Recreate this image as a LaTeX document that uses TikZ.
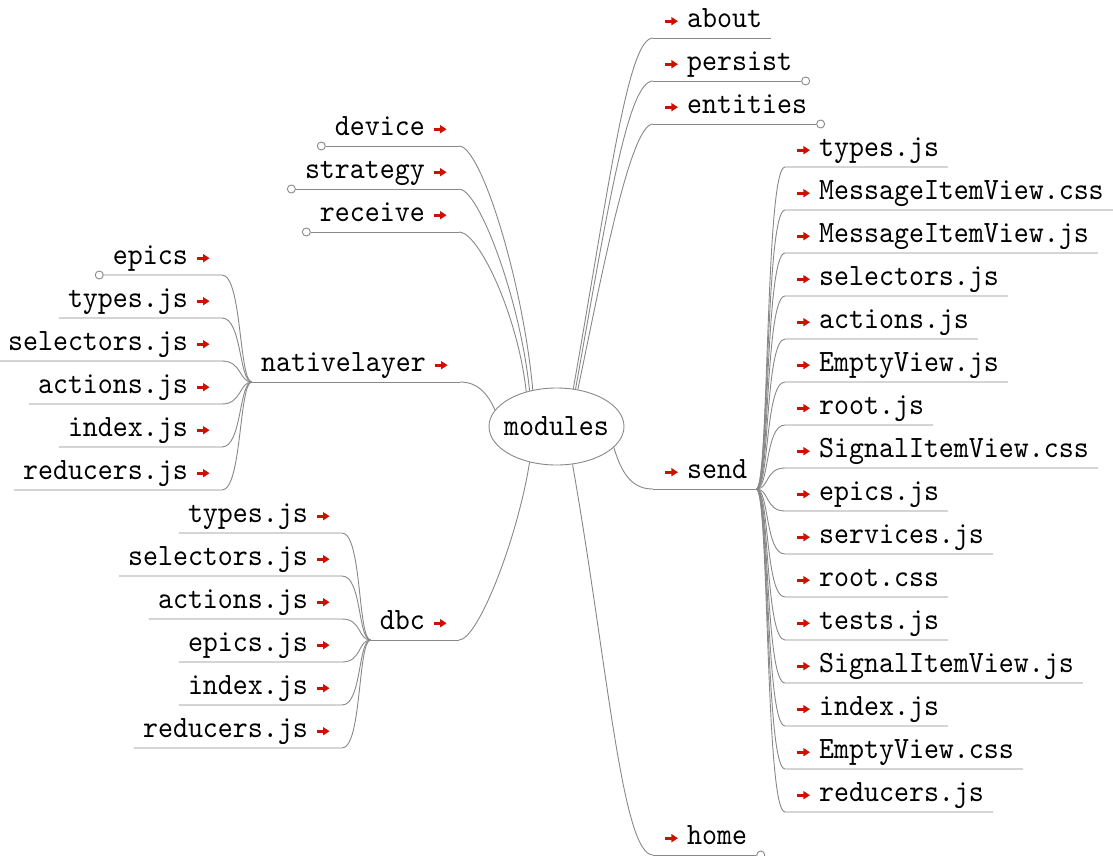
\documentclass[tikz,border=0pt]{standalone}
\usepackage{fontspec}
\usetikzlibrary{shapes.geometric}
\newfontfamily\mono{lmmono10-regular.otf}[FakeStretch=0.92]
\definecolor{linegray}{RGB}{136,136,136}
\definecolor{arrred}{RGB}{204,17,0}
\newcommand\arr{\makebox[13pt][c]{\tikz[x=1pt,y=1pt,baseline=0pt]{\fill[arrred] (0,5) rectangle (7,8.2); \fill[arrred] (6,2.4) -- (12.5,6.6) -- (6,10.8) -- cycle;}}}
\newcommand\RT[1]{\hspace*{12pt}\arr\hspace*{9pt}#1\hspace*{9pt}}
\newcommand\LT[1]{\hspace*{9pt}#1\hspace*{9pt}\arr\hspace*{12pt}}
\begin{document}
\begin{tikzpicture}[x=1pt,y=-1pt,
  conn/.style={draw=linegray, line width=0.9pt},
  base/.style={inner sep=0pt, text height=24pt, text depth=10pt, font=\mono\fontsize{31}{34}\selectfont},
  ritem/.style={base, anchor=south west},
  litem/.style={base, anchor=south east},
  knob/.style={circle, draw=linegray, fill=white, line width=0.9pt, minimum size=8pt, inner sep=0pt},
]
\useasboundingbox (0,0) rectangle (1113,856);

\node[ellipse, draw=linegray, line width=0.9pt, minimum width=135pt, minimum height=77pt, inner xsep=-6pt, inner ysep=0pt, font=\mono\fontsize{31}{34}\selectfont] (root) at (556.5,426.5) {modules};

% right top level
\node[ritem] (about) at (653,38) {\RT{about}};
\node[ritem] (persist) at (653,81) {\RT{persist}};
\node[ritem] (entities) at (653,124) {\RT{entities}};
\node[ritem] (send) at (653,489) {\RT{send}};
\node[ritem] (home) at (653,855) {\RT{home}};
% left top level
\node[litem] (device) at (459,146) {\LT{device}};
\node[litem] (strategy) at (459,189) {\LT{strategy}};
\node[litem] (receive) at (459,232) {\LT{receive}};
\node[litem] (native) at (460,382) {\LT{nativelayer}};
\node[litem] (dbc) at (459,640) {\LT{dbc}};

\foreach \n in {about,persist,entities,send,home,device,strategy,receive,native,dbc}
  \draw[conn] (\n.south west) -- (\n.south east);

% connectors from root
\draw[conn] (root.66) .. controls +(37,-210) and +(-25,0) .. (about.south west);
\draw[conn] (root.63) .. controls +(33,-185) and +(-25,0) .. (persist.south west);
\draw[conn] (root.60) .. controls +(23,-110) and +(-23,0) .. (entities.south west);
\draw[conn] (root.-20) .. controls +(9,31) and +(-18,0) .. (send.south west);
\draw[conn] (root.-67.5) .. controls +(35,200) and +(-31,0) .. (home.south west);
\draw[conn] (root.123) .. controls +(-10,-109) and +(22,0) .. (device.south east);
\draw[conn] (root.127) .. controls +(-9,-90) and +(20,0) .. (strategy.south east);
\draw[conn] (root.131) .. controls +(-8,-75) and +(20,0) .. (receive.south east);
\draw[conn] (root.165) .. controls +(-7,-16) and +(18,0) .. (native.south east);
\draw[conn] (root.233) .. controls +(-12,76) and +(19,0) .. (dbc.south east);

% send children
\foreach \t [count=\i] in {types.js,MessageItemView.css,MessageItemView.js,selectors.js,actions.js,EmptyView.js,root.js,SignalItemView.css,epics.js,services.js,root.css,tests.js,SignalItemView.js,index.js,EmptyView.css,reducers.js}
  \node[ritem] (s\i) at (785,{167+43*(\i-1)}) {\RT{\t}};
\foreach \i in {1,...,16}
  \draw[conn] (send.south east) .. controls +(13,0) and +(-20,0) .. (s\i.south west) -- (s\i.south east);

% nativelayer children
\foreach \t [count=\i] in {epics,types.js,selectors.js,actions.js,index.js,reducers.js}
  \node[litem] (n\i) at (222,{275+43*(\i-1)}) {\LT{\t}};
\foreach \i in {1,...,6}
  \draw[conn] (native.south west) .. controls +(-13,0) and +(20,0) .. (n\i.south east) -- (n\i.south west);

% dbc children
\foreach \t [count=\i] in {types.js,selectors.js,actions.js,epics.js,index.js,reducers.js}
  \node[litem] (d\i) at (342,{533+43*(\i-1)}) {\LT{\t}};
\foreach \i in {1,...,6}
  \draw[conn] (dbc.south west) .. controls +(-13,0) and +(20,0) .. (d\i.south east) -- (d\i.south west);

% collapsed markers
\node[knob, anchor=west] (kpersist) at (persist.south east) {};
\node[knob, anchor=west] (kentities) at (entities.south east) {};
\node[knob, anchor=west] (khome) at (home.south east) {};
\node[knob, anchor=east] (kdevice) at (device.south west) {};
\node[knob, anchor=east] (kstrategy) at (strategy.south west) {};
\node[knob, anchor=east] (kreceive) at (receive.south west) {};
\node[knob, anchor=east] (kepics) at (n1.south west) {};
\end{tikzpicture}
\end{document}
